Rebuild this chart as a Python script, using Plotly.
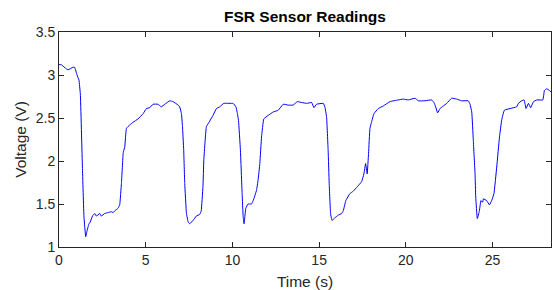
import plotly.graph_objects as go

time_s = [0.0, 0.13, 0.43, 0.52, 0.81, 0.9, 1.04, 1.15, 1.23, 1.35, 1.44, 1.54, 1.62, 1.67, 1.73, 1.8, 1.93,
          2.06, 2.15, 2.35, 2.44, 2.64, 2.83, 3.02, 3.12, 3.21, 3.4, 3.5, 3.6, 3.7, 3.73, 3.79, 3.89, 4.08,
          4.27, 4.56, 4.85, 5.04, 5.23, 5.42, 5.71, 5.9, 6.1, 6.39, 6.58, 6.87, 6.96, 7.06, 7.12, 7.19,
          7.25, 7.35, 7.45, 7.54, 7.73, 7.92, 8.12, 8.2, 8.3, 8.35, 8.5, 8.65, 8.88, 9.08, 9.27, 9.5,
          9.94, 10.04, 10.2, 10.27, 10.35, 10.46, 10.56, 10.62, 10.67, 10.77, 10.9, 11.1, 11.2, 11.39,
          11.48, 11.58, 11.68, 11.81, 12.06, 12.35, 12.64, 12.93, 13.22, 13.5, 13.74, 14.0, 14.28, 14.57,
          14.7, 14.85, 15.24, 15.33, 15.43, 15.52, 15.58, 15.66, 15.74, 15.91, 16.1, 16.3, 16.39, 16.54,
          16.77, 16.97, 17.2, 17.45, 17.58, 17.68, 17.77, 17.85, 17.93, 18.02, 18.16, 18.41, 18.7, 19.08,
          19.56, 19.85, 20.14, 20.53, 20.72, 21.1, 21.49, 21.62, 21.72, 21.83, 21.97, 22.16, 22.36, 22.64,
          22.93, 23.22, 23.6, 23.7, 23.8, 23.89, 23.99, 24.03, 24.12, 24.24, 24.33, 24.43, 24.47, 24.66,
          24.82, 24.95, 25.08, 25.24, 25.4, 25.53, 25.68, 26.01, 26.39, 26.49, 26.68, 26.82, 26.93, 27.07,
          27.2, 27.36, 27.55, 27.9, 27.99, 28.12, 28.28, 28.37]
voltage_v = [3.12, 3.12, 3.07, 3.06, 3.09, 3.09, 3.0, 2.94, 2.78, 1.93, 1.35, 1.12, 1.19, 1.23, 1.27, 1.29, 1.36,
             1.39, 1.36, 1.39, 1.36, 1.39, 1.40, 1.41, 1.40, 1.42, 1.45, 1.49, 1.74, 2.09, 2.12, 2.16, 2.38, 2.42,
             2.45, 2.49, 2.55, 2.61, 2.62, 2.66, 2.66, 2.63, 2.66, 2.70, 2.69, 2.65, 2.63, 2.55, 2.40, 2.13,
             1.74, 1.39, 1.29, 1.27, 1.31, 1.36, 1.38, 1.42, 1.70, 2.01, 2.40, 2.45, 2.53, 2.61, 2.63, 2.67,
             2.67, 2.67, 2.63, 2.57, 2.47, 2.13, 1.62, 1.35, 1.27, 1.45, 1.50, 1.50, 1.54, 1.66,
             1.78, 1.97, 2.28, 2.49, 2.53, 2.57, 2.59, 2.66, 2.65, 2.65, 2.69, 2.68, 2.67, 2.68,
             2.62, 2.66, 2.67, 2.63, 2.51, 2.12, 1.74, 1.39, 1.31, 1.34, 1.37, 1.39, 1.42, 1.54,
             1.62, 1.65, 1.70, 1.76, 1.85, 1.97, 1.85, 2.09, 2.38, 2.45, 2.55, 2.61, 2.64, 2.69,
             2.71, 2.72, 2.71, 2.73, 2.70, 2.70, 2.71, 2.68, 2.63, 2.56, 2.61, 2.64, 2.67, 2.73,
             2.72, 2.70, 2.70, 2.66, 2.57, 2.24, 1.85, 1.58, 1.33, 1.42, 1.54, 1.52, 1.56, 1.54,
             1.49, 1.54, 1.62, 1.93, 2.28, 2.48, 2.59, 2.61, 2.63, 2.67, 2.70, 2.71, 2.61, 2.67,
             2.62, 2.69, 2.71, 2.71, 2.82, 2.84, 2.82, 2.80]

x_ticks = [0, 5, 10, 15, 20, 25]
y_ticks = [1, 1.5, 2, 2.5, 3, 3.5]

FONT = "Liberation Sans, Arial, Helvetica, sans-serif"

fig = go.Figure()
fig.add_trace(go.Scatter(x=time_s, y=voltage_v, mode="lines",
                         line=dict(color="#0000ff", width=1, shape="spline", smoothing=0.3),
                         showlegend=False))

axis_common = dict(showline=True, linecolor="#262626", linewidth=1, mirror="ticks",
                   ticks="inside", ticklen=5, tickcolor="#262626", tickwidth=1,
                   showgrid=False, zeroline=False, automargin=False,
                   tickfont=dict(family=FONT, size=14, color="#262626"))

fig.update_layout(
    width=555, height=290,
    margin=dict(l=59, r=4, t=32, b=43),
    paper_bgcolor="white", plot_bgcolor="white",
    title=dict(text="<b>FSR Sensor Readings</b>", xref="paper", x=0.5, xanchor="center",
               yref="container", y=1 - 17 / 290, yanchor="middle",
               font=dict(family=FONT, size=15.5, color="black")),
    xaxis=dict(range=[0, 28.37], tickvals=x_ticks, title=dict(text="Time (s)", standoff=19,
               font=dict(family=FONT, size=15.5, color="#262626")), **axis_common),
    yaxis=dict(range=[1, 3.5], tickvals=y_ticks, title=dict(text="Voltage (V)", standoff=5,
               font=dict(family=FONT, size=15.5, color="#262626")), **axis_common),
)

fig.write_html("out.html", config={"displayModeBar": False},
               post_script="document.body.style.margin='0';")
